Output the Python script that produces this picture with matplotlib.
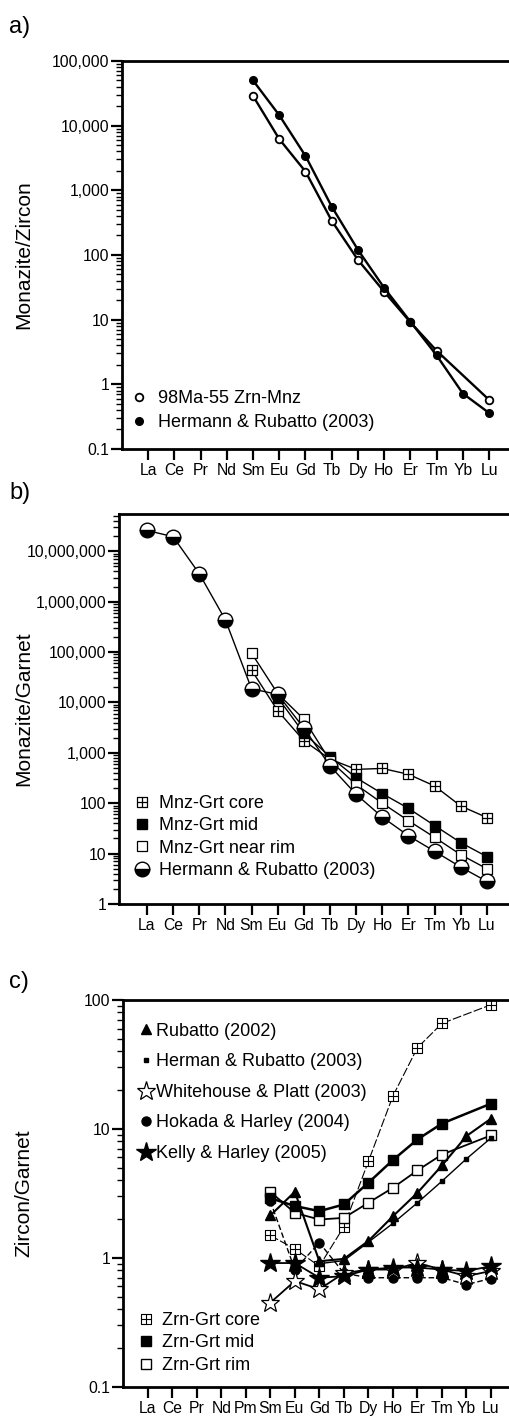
import numpy as np
import matplotlib
matplotlib.use("Agg")
import matplotlib.pyplot as plt
from matplotlib.lines import Line2D
from matplotlib.path import Path
from matplotlib.ticker import LogLocator, NullFormatter, FixedLocator, FixedFormatter

plt.rcParams['font.family'] = ['Liberation Sans', 'DejaVu Sans']

nan = np.nan

# element lists
ree14 = ['La', 'Ce', 'Pr', 'Nd', 'Sm', 'Eu', 'Gd', 'Tb', 'Dy', 'Ho', 'Er', 'Tm', 'Yb', 'Lu']
ree15 = ['La', 'Ce', 'Pr', 'Nd', 'Pm', 'Sm', 'Eu', 'Gd', 'Tb', 'Dy', 'Ho', 'Er', 'Tm', 'Yb', 'Lu']

# a) Monazite/Zircon (La..Lu, 14 values)
a_98ma55 = [nan, nan, nan, nan, 28800, 6200, 1950, 338, 84, 27, 9.1, 3.3, nan, 0.575]
a_hr2003 = [nan, nan, nan, nan, 50000, 14500, 3400, 560, 120, 31, 9.3, 2.8, 0.72, 0.36]

# b) Monazite/Garnet (La..Lu, 14 values)
b_core = [nan, nan, nan, nan, 44000, 6840, 1740, 750, 470, 490, 375, 220, 88, 52]
b_mid = [nan, nan, nan, nan, nan, 12500, 2450, 840, 320, 155, 79, 36, 16.5, 8.7]
b_rim = [nan, nan, nan, nan, 95000, 15000, 4650, 700, 233, 100, 45, 21, 9.5, 5.0]
b_hr2003 = [2.6e7, 1.95e7, 3.6e6, 4.35e5, 18600, 14500, 3100, 550, 150, 53, 22.6, 11.1, 5.4, 2.8]

# c) Zircon/Garnet (La..Lu incl. Pm, 15 values)
c_rub2002 = [nan, nan, nan, nan, nan, 2.13, 3.25, 0.94, 0.98, 1.35, 2.10, 3.19, 5.2, 8.8, 12.0]
c_hr2003 = [nan, nan, nan, nan, nan, nan, nan, 0.9, 0.95, 1.32, 1.85, 2.67, 3.93, 5.86, 8.5]
c_wp2003 = [nan, nan, nan, nan, nan, 0.448, 0.66, 0.57, 0.76, 0.81, 0.81, 0.91, 0.81, 0.72, 0.79]
c_hh2004 = [nan, nan, nan, nan, nan, 2.75, 0.81, 1.31, 0.76, 0.70, 0.70, 0.70, 0.70, 0.62, 0.69]
c_kh2005 = [nan, nan, nan, nan, nan, 0.91, 0.91, 0.70, 0.72, 0.81, 0.84, 0.84, 0.81, 0.79, 0.86]
c_core = [nan, nan, nan, nan, nan, 1.49, 1.17, 0.86, 1.74, 5.6, 18.0, 42.6, 65.8, nan, 91.8]
c_mid = [nan, nan, nan, nan, nan, 2.9, 2.52, 2.30, 2.59, 3.82, 5.73, 8.28, 11.0, nan, 15.7]
c_rim = [nan, nan, nan, nan, nan, 3.25, 2.23, 1.98, 2.04, 2.67, 3.49, 4.76, 6.32, nan, 8.9]

# crossed square marker
crossed_sq = Path([(-1, -1), (1, -1), (1, 1), (-1, 1), (-1, -1),
                   (0, -1), (0, 1), (-1, 0), (1, 0)],
                  [Path.MOVETO, Path.LINETO, Path.LINETO, Path.LINETO, Path.CLOSEPOLY,
                   Path.MOVETO, Path.LINETO, Path.MOVETO, Path.LINETO])

FS_TICK = 11.3
FS_LEG = 13


def draw(ax, vals, label, **kw):
    v = np.array(vals, dtype=float)
    x = np.arange(len(v))
    ok = np.isfinite(v)
    return ax.plot(x[ok], v[ok], color='black', label=label, **kw)[0]


def mk(h):
    # legend proxy: marker only, no line
    return Line2D([], [], ls='none', marker=h.get_marker(), ms=h.get_markersize(),
                  mfc=h.get_markerfacecolor(), mfcalt=h.get_markerfacecoloralt(),
                  fillstyle=h.get_fillstyle(), mec=h.get_markeredgecolor(),
                  mew=h.get_markeredgewidth())


def style_axes(ax, names, xlo, xhi, ylo, yhi, ticks, ticklabels, ylabel, labx):
    ax.set_yscale('log')
    ax.set_xlim(xlo, xhi)
    ax.set_ylim(ylo, yhi)
    ax.set_xticks(range(len(names)))
    ax.set_xticklabels(names, fontsize=FS_TICK)
    ax.yaxis.set_major_locator(FixedLocator(ticks))
    ax.yaxis.set_major_formatter(FixedFormatter(ticklabels))
    ax.yaxis.set_minor_locator(LogLocator(base=10, subs=np.arange(2, 10), numticks=100))
    ax.yaxis.set_minor_formatter(NullFormatter())
    ax.tick_params(axis='y', which='major', direction='out', length=8, width=1.6,
                   labelsize=FS_TICK, pad=1)
    ax.tick_params(axis='y', which='minor', direction='out', length=4, width=1.0)
    ax.tick_params(axis='x', direction='out', length=8, width=1.6, pad=2)
    for s in ax.spines.values():
        s.set_linewidth(2.0)
    ax.set_ylabel(ylabel, fontsize=15)
    ax.yaxis.set_label_coords(labx, 0.5)


fig = plt.figure(figsize=(5.1, 14.18), dpi=100)

# ---------- a) ----------
ax1 = fig.add_axes([0.239, 0.6834, 0.7714, 0.2736])
l1 = draw(ax1, a_98ma55, '98Ma-55 Zrn-Mnz', lw=1.7, marker='o', ms=5.5, mfc='white', mec='black', mew=1.3)
l2 = draw(ax1, a_hr2003, 'Hermann & Rubatto (2003)', lw=1.7, marker='o', ms=5.5, mfc='black', mec='black')
style_axes(ax1, ree14, -1.0, 14.0, 0.1, 1e5,
           [0.1, 1, 10, 100, 1000, 1e4, 1e5],
           ['0.1', '1', '10', '100', '1,000', '10,000', '100,000'],
           'Monazite/Zircon', -0.226)
ax1.legend([mk(l1), mk(l2)], ['98Ma-55 Zrn-Mnz', 'Hermann & Rubatto (2003)'],
           loc='lower left', bbox_to_anchor=(-0.015, 0.004), frameon=False, handlelength=0.8,
           handletextpad=0.6, fontsize=FS_LEG, labelspacing=0.38)
fig.text(0.018, 0.981, 'a)', fontsize=17, va='center')

# ---------- b) ----------
ax2 = fig.add_axes([0.2333, 0.3625, 0.7727, 0.275])
m1 = draw(ax2, b_core, 'Mnz-Grt core', lw=1.0, marker=crossed_sq, ms=7, mfc='white', mec='black', mew=0.9)
m2 = draw(ax2, b_mid, 'Mnz-Grt mid', lw=1.0, marker='s', ms=7, mfc='black', mec='black')
m3 = draw(ax2, b_rim, 'Mnz-Grt near rim', lw=1.0, marker='s', ms=7, mfc='white', mec='black', mew=0.9)
m4 = draw(ax2, b_hr2003, 'Hermann & Rubatto (2003)', lw=1.0, marker='o', ms=10.5, mfc='black',
          mfcalt='white', fillstyle='bottom', mec='black', mew=1.0)
style_axes(ax2, ree14, -1.07, 14.0, 1, 5.5e7,
           [1, 10, 100, 1000, 1e4, 1e5, 1e6, 1e7],
           ['1', '10', '100', '1,000', '10,000', '100,000', '1,000,000', '10,000,000'],
           'Monazite/Garnet', -0.218)
ax2.legend([mk(m1), mk(m2), mk(m3), mk(m4)],
           ['Mnz-Grt core', 'Mnz-Grt mid', 'Mnz-Grt near rim', 'Hermann & Rubatto (2003)'],
           loc='lower left', bbox_to_anchor=(0.0, 0.022), frameon=False, handlelength=0.8,
           handletextpad=0.5, fontsize=FS_LEG, labelspacing=0.3)
fig.text(0.018, 0.652, 'b)', fontsize=17, va='center')

# ---------- c) ----------
ax3 = fig.add_axes([0.2406, 0.0221, 0.7702, 0.2727])
h_core = draw(ax3, c_core, 'Zrn-Grt core', lw=0.8, ls=(0, (8, 2)), marker=crossed_sq, ms=6.5,
              mfc='white', mec='black', mew=0.8)
h_rim = draw(ax3, c_rim, 'Zrn-Grt rim', lw=1.3, marker='s', ms=7, mfc='white', mec='black', mew=1.0)
h_mid = draw(ax3, c_mid, 'Zrn-Grt mid', lw=1.8, marker='s', ms=7, mfc='black', mec='black')
h_hh = draw(ax3, c_hh2004, 'Hokada & Harley (2004)', lw=1.0, ls=(0, (4, 2)), marker='o', ms=6.5,
            mfc='black', mec='black')
h_rub = draw(ax3, c_rub2002, 'Rubatto (2002)', lw=1.5, marker='^', ms=7.5, mfc='black', mec='black')
h_hr = draw(ax3, c_hr2003, 'Herman & Rubatto (2003)', lw=1.0, marker='s', ms=2.5, mfc='black', mec='black')
h_wp = draw(ax3, c_wp2003, 'Whitehouse & Platt (2003)', lw=1.3, marker='*', ms=14, mfc='white',
            mec='black', mew=0.9)
h_kh = draw(ax3, c_kh2005, 'Kelly & Harley (2005)', lw=1.3, marker='*', ms=15, mfc='black', mec='black')
style_axes(ax3, ree15, -1.02, 15.0, 0.1, 100,
           [0.1, 1, 10, 100], ['0.1', '1', '10', '100'],
           'Zircon/Garnet', -0.228)
leg1 = ax3.legend([mk(h) for h in (h_rub, h_hr, h_wp, h_hh, h_kh)],
                  ['Rubatto (2002)', 'Herman & Rubatto (2003)', 'Whitehouse & Platt (2003)',
                   'Hokada & Harley (2004)', 'Kelly & Harley (2005)'],
                  loc='upper left', bbox_to_anchor=(0.0, 0.983), frameon=False, handlelength=0.8,
                  handletextpad=0.15, fontsize=FS_LEG, labelspacing=0.75)
ax3.add_artist(leg1)
ax3.legend([mk(h) for h in (h_core, h_mid, h_rim)], ['Zrn-Grt core', 'Zrn-Grt mid', 'Zrn-Grt rim'],
           loc='lower left', bbox_to_anchor=(0.0, -0.009), frameon=False, handlelength=0.8,
           handletextpad=0.5, fontsize=FS_LEG, labelspacing=0.3)
fig.text(0.018, 0.3075, 'c)', fontsize=17, va='center')

fig.savefig('out.png', dpi=100)
